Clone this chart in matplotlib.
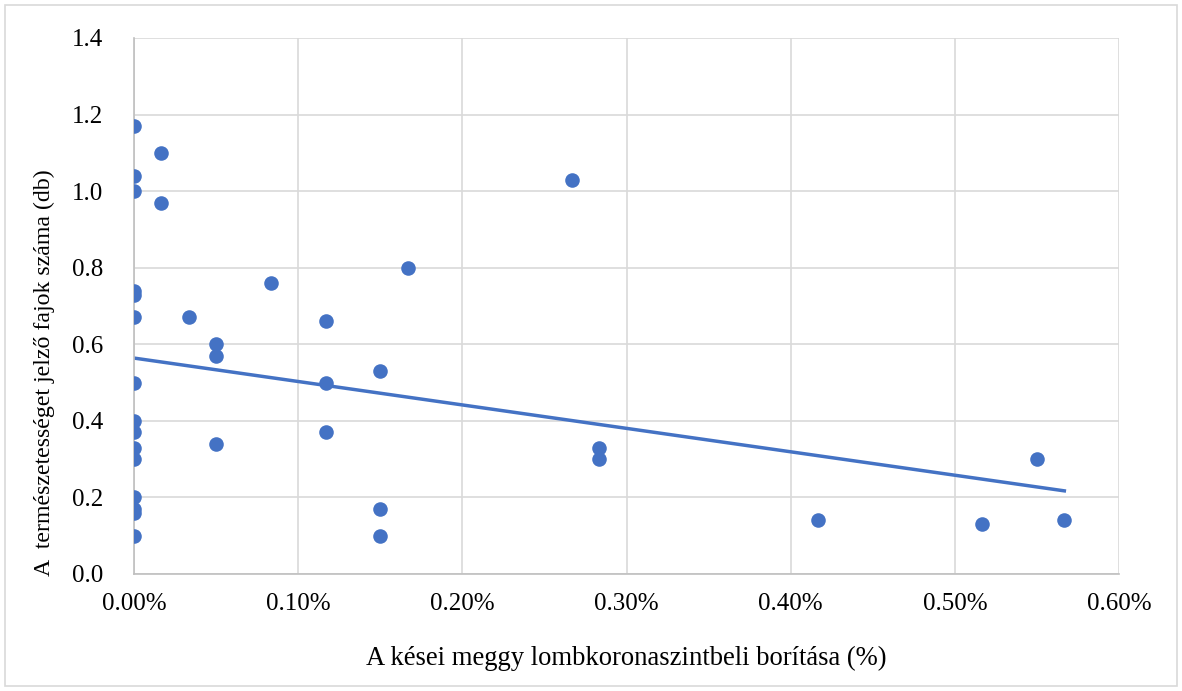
import matplotlib
matplotlib.use("Agg")
import matplotlib.pyplot as plt
import numpy as np
from matplotlib.ticker import FuncFormatter
from matplotlib.patches import Rectangle

# Data (x in %, y in db)
x_vals = [0, 0, 0, 0, 0, 0, 0, 0, 0, 0, 0, 0, 0, 0, 0,
          0.0167, 0.0167, 0.0333, 0.05, 0.05, 0.05, 0.0833,
          0.1167, 0.1167, 0.1167, 0.15, 0.15, 0.15, 0.1667,
          0.2667, 0.2833, 0.2833, 0.4167, 0.5167, 0.55, 0.5667]
y_vals = [1.17, 1.04, 1.00, 0.74, 0.73, 0.67, 0.50, 0.40, 0.37, 0.33, 0.30, 0.20, 0.17, 0.16, 0.10,
          1.10, 0.97, 0.67, 0.60, 0.57, 0.34, 0.76,
          0.66, 0.50, 0.37, 0.53, 0.17, 0.10, 0.80,
          1.03, 0.33, 0.30, 0.14, 0.13, 0.30, 0.14]
# Linear trendline
trend_intercept = 0.564
trend_slope = -0.612
x_ticks = [0, 0.1, 0.2, 0.3, 0.4, 0.5, 0.6]
y_ticks = [0, 0.2, 0.4, 0.6, 0.8, 1.0, 1.2, 1.4]
x_label = "A kései meggy lombkoronaszintbeli borítása (%)"
y_label = "A  természetességet jelző fajok száma (db)"

plt.rcParams['font.family'] = ['Liberation Serif', 'DejaVu Serif']
blue = '#4472C4'

fig = plt.figure(figsize=(11.82, 6.91), dpi=100)
ax = fig.add_axes([134/1182, 1 - 574/691, (1119-134)/1182, (574-38)/691])

x = np.array(x_vals)
y = np.array(y_vals)
ax.scatter(x, y, s=110, color=blue, zorder=3, linewidths=0)

xl = np.array([x.min(), x.max()])
ax.plot(xl, trend_intercept + trend_slope * xl, color=blue, lw=2.5, zorder=2)

ax.set_xlim(0, 0.6)
ax.set_ylim(0, 1.4)
ax.set_xticks(x_ticks)
ax.set_yticks(y_ticks)
ax.xaxis.set_major_formatter(FuncFormatter(lambda v, p: f"{v:.2f}%"))
ax.yaxis.set_major_formatter(FuncFormatter(lambda v, p: f"{v:.1f}"))
ax.grid(True, color='#d9d9d9', lw=1.2, zorder=0)
ax.set_axisbelow(True)
for s in ['top', 'right']:
    ax.spines[s].set_visible(False)
for s in ['left', 'bottom']:
    ax.spines[s].set_color('#bfbfbf')
    ax.spines[s].set_linewidth(1.2)
ax.tick_params(length=0, labelsize=18, colors='black')
ax.tick_params(axis='y', pad=22)
ax.tick_params(axis='x', pad=14)

ax.set_xlabel(x_label, fontsize=19.2, labelpad=22)
ax.set_ylabel(y_label, fontsize=17.2)
ax.yaxis.set_label_coords(-0.080, 0.375)

fig.patches.append(Rectangle((5/1182, 5/691), 1 - 10/1182, 1 - 10/691, transform=fig.transFigure,
                             fill=False, edgecolor='#d9d9d9', lw=1.2))

fig.savefig("out.png", dpi=100)
